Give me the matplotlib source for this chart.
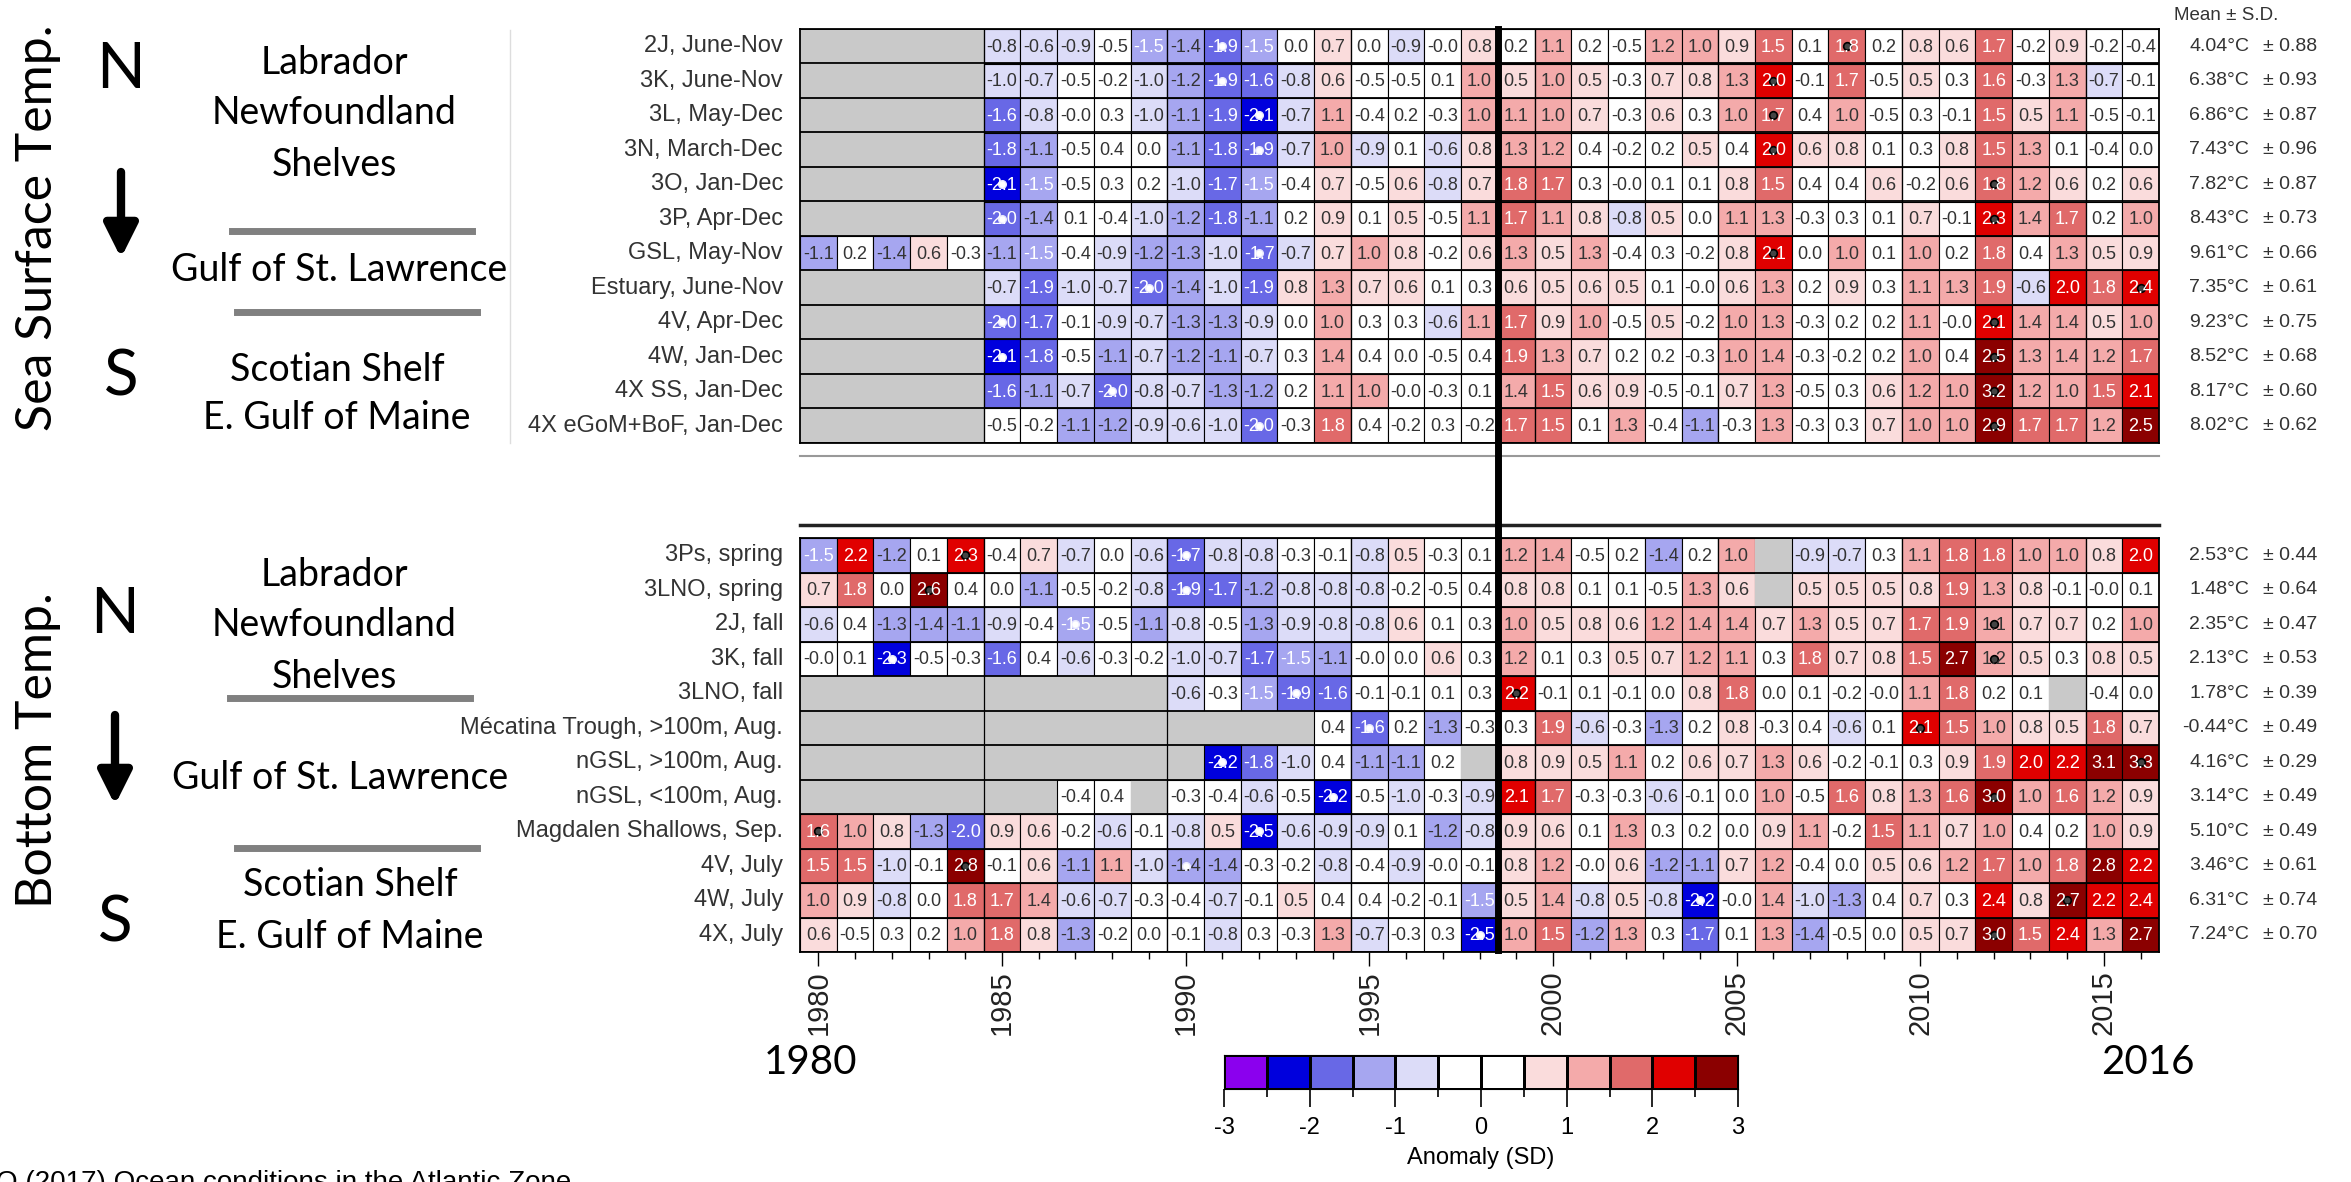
import numpy as np
import matplotlib.pyplot as plt
from matplotlib.colors import ListedColormap, BoundaryNorm
from matplotlib.lines import Line2D
from matplotlib.patches import Rectangle, FancyArrowPatch
import matplotlib.transforms as mtransforms

G = np.nan  # no data (grey cell)
years = np.arange(1980, 2017)

# Sea surface temperature anomalies (SD), 1980-2016
sst_labels = ['2J, June-Nov', '3K, June-Nov', '3L, May-Dec', '3N, March-Dec', '3O, Jan-Dec',
              '3P, Apr-Dec', 'GSL, May-Nov', 'Estuary, June-Nov', '4V, Apr-Dec', '4W, Jan-Dec',
              '4X SS, Jan-Dec', '4X eGoM+BoF, Jan-Dec']
sst_2J = [G, G, G, G, G, -0.8, -0.6, -0.9, -0.5, -1.5, -1.4, -1.9, -1.5, 0.0, 0.7, 0.0, -0.9, -0.0, 0.8,
          0.2, 1.1, 0.2, -0.5, 1.2, 1.0, 0.9, 1.5, 0.1, 1.8, 0.2, 0.8, 0.6, 1.7, -0.2, 0.9, -0.2, -0.4]
sst_3K = [G, G, G, G, G, -1.0, -0.7, -0.5, -0.2, -1.0, -1.2, -1.9, -1.6, -0.8, 0.6, -0.5, -0.5, 0.1, 1.0,
          0.5, 1.0, 0.5, -0.3, 0.7, 0.8, 1.3, 2.0, -0.1, 1.7, -0.5, 0.5, 0.3, 1.6, -0.3, 1.3, -0.7, -0.1]
sst_3L = [G, G, G, G, G, -1.6, -0.8, -0.0, 0.3, -1.0, -1.1, -1.9, -2.1, -0.7, 1.1, -0.4, 0.2, -0.3, 1.0,
          1.1, 1.0, 0.7, -0.3, 0.6, 0.3, 1.0, 1.7, 0.4, 1.0, -0.5, 0.3, -0.1, 1.5, 0.5, 1.1, -0.5, -0.1]
sst_3N = [G, G, G, G, G, -1.8, -1.1, -0.5, 0.4, 0.0, -1.1, -1.8, -1.9, -0.7, 1.0, -0.9, 0.1, -0.6, 0.8,
          1.3, 1.2, 0.4, -0.2, 0.2, 0.5, 0.4, 2.0, 0.6, 0.8, 0.1, 0.3, 0.8, 1.5, 1.3, 0.1, -0.4, 0.0]
sst_3O = [G, G, G, G, G, -2.1, -1.5, -0.5, 0.3, 0.2, -1.0, -1.7, -1.5, -0.4, 0.7, -0.5, 0.6, -0.8, 0.7,
          1.8, 1.7, 0.3, -0.0, 0.1, 0.1, 0.8, 1.5, 0.4, 0.4, 0.6, -0.2, 0.6, 1.8, 1.2, 0.6, 0.2, 0.6]
sst_3P = [G, G, G, G, G, -2.0, -1.4, 0.1, -0.4, -1.0, -1.2, -1.8, -1.1, 0.2, 0.9, 0.1, 0.5, -0.5, 1.1,
          1.7, 1.1, 0.8, -0.8, 0.5, 0.0, 1.1, 1.3, -0.3, 0.3, 0.1, 0.7, -0.1, 2.3, 1.4, 1.7, 0.2, 1.0]
sst_GSL = [-1.1, 0.2, -1.4, 0.6, -0.3, -1.1, -1.5, -0.4, -0.9, -1.2, -1.3, -1.0, -1.7, -0.7, 0.7, 1.0, 0.8, -0.2, 0.6,
           1.3, 0.5, 1.3, -0.4, 0.3, -0.2, 0.8, 2.1, 0.0, 1.0, 0.1, 1.0, 0.2, 1.8, 0.4, 1.3, 0.5, 0.9]
sst_Est = [G, G, G, G, G, -0.7, -1.9, -1.0, -0.7, -2.0, -1.4, -1.0, -1.9, 0.8, 1.3, 0.7, 0.6, 0.1, 0.3,
           0.6, 0.5, 0.6, 0.5, 0.1, -0.0, 0.6, 1.3, 0.2, 0.9, 0.3, 1.1, 1.3, 1.9, -0.6, 2.0, 1.8, 2.4]
sst_4V = [G, G, G, G, G, -2.0, -1.7, -0.1, -0.9, -0.7, -1.3, -1.3, -0.9, 0.0, 1.0, 0.3, 0.3, -0.6, 1.1,
          1.7, 0.9, 1.0, -0.5, 0.5, -0.2, 1.0, 1.3, -0.3, 0.2, 0.2, 1.1, -0.0, 2.1, 1.4, 1.4, 0.5, 1.0]
sst_4W = [G, G, G, G, G, -2.1, -1.8, -0.5, -1.1, -0.7, -1.2, -1.1, -0.7, 0.3, 1.4, 0.4, 0.0, -0.5, 0.4,
          1.9, 1.3, 0.7, 0.2, 0.2, -0.3, 1.0, 1.4, -0.3, -0.2, 0.2, 1.0, 0.4, 2.5, 1.3, 1.4, 1.2, 1.7]
sst_4XSS = [G, G, G, G, G, -1.6, -1.1, -0.7, -2.0, -0.8, -0.7, -1.3, -1.2, 0.2, 1.1, 1.0, -0.0, -0.3, 0.1,
            1.4, 1.5, 0.6, 0.9, -0.5, -0.1, 0.7, 1.3, -0.5, 0.3, 0.6, 1.2, 1.0, 3.2, 1.2, 1.0, 1.5, 2.1]
sst_4XGoM = [G, G, G, G, G, -0.5, -0.2, -1.1, -1.2, -0.9, -0.6, -1.0, -2.0, -0.3, 1.8, 0.4, -0.2, 0.3, -0.2,
             1.7, 1.5, 0.1, 1.3, -0.4, -1.1, -0.3, 1.3, -0.3, 0.3, 0.7, 1.0, 1.0, 2.9, 1.7, 1.7, 1.2, 2.5]
sst_mean = [4.04, 6.38, 6.86, 7.43, 7.82, 8.43, 9.61, 7.35, 9.23, 8.52, 8.17, 8.02]
sst_sd = [0.88, 0.93, 0.87, 0.96, 0.87, 0.73, 0.66, 0.61, 0.75, 0.68, 0.60, 0.62]
sst_max_yr = [2008, 2006, 2006, 2006, 2012, 2012, 2006, 2016, 2012, 2012, 2012, 2012]
sst_min_yr = [1991, 1991, 1992, 1992, 1985, 1985, 1992, 1989, 1985, 1985, 1988, 1992]

# Bottom temperature anomalies (SD), 1980-2016
bt_labels = ['3Ps, spring', '3LNO, spring', '2J, fall', '3K, fall', '3LNO, fall',
             'Mécatina Trough, >100m, Aug.', 'nGSL, >100m, Aug.', 'nGSL, <100m, Aug.',
             'Magdalen Shallows, Sep.', '4V, July', '4W, July', '4X, July']
bt_3Ps = [-1.5, 2.2, -1.2, 0.1, 2.3, -0.4, 0.7, -0.7, 0.0, -0.6, -1.7, -0.8, -0.8, -0.3, -0.1, -0.8, 0.5, -0.3, 0.1,
          1.2, 1.4, -0.5, 0.2, -1.4, 0.2, 1.0, G, -0.9, -0.7, 0.3, 1.1, 1.8, 1.8, 1.0, 1.0, 0.8, 2.0]
bt_3LNOs = [0.7, 1.8, 0.0, 2.6, 0.4, 0.0, -1.1, -0.5, -0.2, -0.8, -1.9, -1.7, -1.2, -0.8, -0.8, -0.8, -0.2, -0.5, 0.4,
            0.8, 0.8, 0.1, 0.1, -0.5, 1.3, 0.6, G, 0.5, 0.5, 0.5, 0.8, 1.9, 1.3, 0.8, -0.1, -0.0, 0.1]
bt_2Jf = [-0.6, 0.4, -1.3, -1.4, -1.1, -0.9, -0.4, -1.5, -0.5, -1.1, -0.8, -0.5, -1.3, -0.9, -0.8, -0.8, 0.6, 0.1, 0.3,
          1.0, 0.5, 0.8, 0.6, 1.2, 1.4, 1.4, 0.7, 1.3, 0.5, 0.7, 1.7, 1.9, 1.1, 0.7, 0.7, 0.2, 1.0]
bt_3Kf = [-0.0, 0.1, -2.3, -0.5, -0.3, -1.6, 0.4, -0.6, -0.3, -0.2, -1.0, -0.7, -1.7, -1.5, -1.1, -0.0, 0.0, 0.6, 0.3,
          1.2, 0.1, 0.3, 0.5, 0.7, 1.2, 1.1, 0.3, 1.8, 0.7, 0.8, 1.5, 2.7, 1.2, 0.5, 0.3, 0.8, 0.5]
bt_3LNOf = [G, G, G, G, G, G, G, G, G, G, -0.6, -0.3, -1.5, -1.9, -1.6, -0.1, -0.1, 0.1, 0.3,
            2.2, -0.1, 0.1, -0.1, 0.0, 0.8, 1.8, 0.0, 0.1, -0.2, -0.0, 1.1, 1.8, 0.2, 0.1, G, -0.4, 0.0]
bt_Meca = [G, G, G, G, G, G, G, G, G, G, G, G, G, G, 0.4, -1.6, 0.2, -1.3, -0.3,
           0.3, 1.9, -0.6, -0.3, -1.3, 0.2, 0.8, -0.3, 0.4, -0.6, 0.1, 2.1, 1.5, 1.0, 0.8, 0.5, 1.8, 0.7]
bt_nGSLdeep = [G, G, G, G, G, G, G, G, G, G, G, -2.2, -1.8, -1.0, 0.4, -1.1, -1.1, 0.2, G,
               0.8, 0.9, 0.5, 1.1, 0.2, 0.6, 0.7, 1.3, 0.6, -0.2, -0.1, 0.3, 0.9, 1.9, 2.0, 2.2, 3.1, 3.3]
bt_nGSLshal = [G, G, G, G, G, G, G, -0.4, 0.4, G, -0.3, -0.4, -0.6, -0.5, -2.2, -0.5, -1.0, -0.3, -0.9,
               2.1, 1.7, -0.3, -0.3, -0.6, -0.1, 0.0, 1.0, -0.5, 1.6, 0.8, 1.3, 1.6, 3.0, 1.0, 1.6, 1.2, 0.9]
bt_Magd = [1.6, 1.0, 0.8, -1.3, -2.0, 0.9, 0.6, -0.2, -0.6, -0.1, -0.8, 0.5, -2.5, -0.6, -0.9, -0.9, 0.1, -1.2, -0.8,
           0.9, 0.6, 0.1, 1.3, 0.3, 0.2, 0.0, 0.9, 1.1, -0.2, 1.5, 1.1, 0.7, 1.0, 0.4, 0.2, 1.0, 0.9]
bt_4V = [1.5, 1.5, -1.0, -0.1, 2.8, -0.1, 0.6, -1.1, 1.1, -1.0, -1.4, -1.4, -0.3, -0.2, -0.8, -0.4, -0.9, -0.0, -0.1,
         0.8, 1.2, -0.0, 0.6, -1.2, -1.1, 0.7, 1.2, -0.4, 0.0, 0.5, 0.6, 1.2, 1.7, 1.0, 1.8, 2.8, 2.2]
bt_4W = [1.0, 0.9, -0.8, 0.0, 1.8, 1.7, 1.4, -0.6, -0.7, -0.3, -0.4, -0.7, -0.1, 0.5, 0.4, 0.4, -0.2, -0.1, -1.5,
         0.5, 1.4, -0.8, 0.5, -0.8, -2.2, -0.0, 1.4, -1.0, -1.3, 0.4, 0.7, 0.3, 2.4, 0.8, 2.7, 2.2, 2.4]
bt_4X = [0.6, -0.5, 0.3, 0.2, 1.0, 1.8, 0.8, -1.3, -0.2, 0.0, -0.1, -0.8, 0.3, -0.3, 1.3, -0.7, -0.3, 0.3, -2.5,
         1.0, 1.5, -1.2, 1.3, 0.3, -1.7, 0.1, 1.3, -1.4, -0.5, 0.0, 0.5, 0.7, 3.0, 1.5, 2.4, 1.3, 2.7]
bt_mean = [2.53, 1.48, 2.35, 2.13, 1.78, -0.44, 4.16, 3.14, 5.10, 3.46, 6.31, 7.24]
bt_sd = [0.44, 0.64, 0.47, 0.53, 0.39, 0.49, 0.29, 0.49, 0.49, 0.61, 0.74, 0.70]
bt_max_yr = [1984, 1983, 2012, 2012, 1999, 2010, 2016, 2012, 1980, 1984, 2014, 2012]
bt_min_yr = [1990, 1990, 1987, 1982, 1993, 1995, 1991, 1994, 1992, 1990, 2004, 1998]

sst = [sst_2J, sst_3K, sst_3L, sst_3N, sst_3O, sst_3P, sst_GSL, sst_Est, sst_4V, sst_4W, sst_4XSS, sst_4XGoM]
bt = [bt_3Ps, bt_3LNOs, bt_2Jf, bt_3Kf, bt_3LNOf, bt_Meca, bt_nGSLdeep, bt_nGSLshal, bt_Magd, bt_4V, bt_4W, bt_4X]

# colour scale
levels = np.arange(-3, 3.01, 0.5)
anom_colors = ['#8B00EE', '#0000DD', '#6868E6', '#A6A6F0', '#DCDCF8', '#FFFFFF',
               '#FFFFFF', '#FADCDC', '#F4AAAA', '#E06A6A', '#E00000', '#8B0000']
cmap = ListedColormap(anom_colors)
norm = BoundaryNorm(levels, cmap.N)

W, H = 2351, 1182
def fx(px):
    return px / W
def fy(py):
    return 1 - py / H

plt.rcParams['font.family'] = ['Liberation Sans', 'DejaVu Sans']
plt.rcParams['axes.unicode_minus'] = False
fig = plt.figure(figsize=(W / 100, H / 100), dpi=100)

GRID_L, GRID_R = 800, 2159


def panel(top_px, bot_px, data, labels, means, sds, max_yr, min_yr, show_years):
    ax = fig.add_axes([fx(GRID_L), fy(bot_px), fx(GRID_R) - fx(GRID_L), fy(top_px) - fy(bot_px)])
    n = len(labels)
    for i, row in enumerate(data):
        for j, v in enumerate(row):
            yr = years[j]
            if np.isnan(v):
                ax.add_patch(Rectangle((yr - 0.5, i - 0.5), 1, 1, facecolor='#c9c9c9', edgecolor='none'))
                continue
            ax.add_patch(Rectangle((yr - 0.5, i - 0.5), 1, 1, facecolor=cmap(norm(v)),
                                   edgecolor='black', linewidth=0.8))
            tc = 'white' if abs(v) >= 1.5 else '#333333'
            ax.text(yr, i + 0.03, f'{v:.1f}', ha='center', va='center', fontsize=13, color=tc)
        ax.plot(max_yr[i], i, 'o', ms=5.5, mfc='#444444', mec='black', mew=1.2)
        ax.plot(min_yr[i], i, 'o', ms=5.5, mfc='white', mec='#e8e8ff', mew=1.0)
    ax.hlines(np.arange(-0.5, n), years[0] - 0.5, years[-1] + 0.5, color='black', lw=1.3)
    ax.vlines(np.arange(1984.5, 2016, 5), -0.5, n - 0.5, color='black', lw=0.9)
    ax.set_xlim(years[0] - 0.5, years[-1] + 0.5)
    ax.set_ylim(n - 0.5, -0.5)
    ax.set_yticks([])
    for s in ax.spines.values():
        s.set_linewidth(1.3)

    tr = mtransforms.blended_transform_factory(ax.transAxes, ax.transData)
    w = GRID_R - GRID_L
    for i, lab in enumerate(labels):
        ax.text(-17 / w, i, lab, transform=tr, ha='right', va='center', fontsize=17, color='#333333')
        ax.text((2249 - GRID_L) / w, i, f'{means[i]:.2f}°C', transform=tr, ha='right', va='center',
                fontsize=14, color='#333333')
        ax.text((2263 - GRID_L) / w, i, f'± {sds[i]:.2f}', transform=tr, ha='left', va='center',
                fontsize=14, color='#333333')

    if show_years:
        ax.set_xticks(np.arange(1980, 2016, 5))
        ax.set_xticks(years, minor=True)
        ax.tick_params(axis='x', which='major', length=10, width=1, pad=3, labelsize=21,
                       labelrotation=90, labelcolor='#222222')
        ax.tick_params(axis='x', which='minor', length=5, width=1)
    else:
        ax.set_xticks([])
    return ax


ax_top = panel(29, 443, sst, sst_labels, sst_mean, sst_sd, sst_max_yr, sst_min_yr, False)
ax_bot = panel(538, 952, bt, bt_labels, bt_mean, bt_sd, bt_max_yr, bt_min_yr, True)

fig.text(fx(2278), fy(16), 'Mean ± S.D.', ha='right', va='center', fontsize=13.5, color='#333333')

# separators
fig.add_artist(Line2D([fx(GRID_L), fx(GRID_R)], [fy(456), fy(456)], color='#999999', lw=1.5))
fig.add_artist(Line2D([fx(GRID_L), fx(GRID_R)], [fy(525), fy(525)], color='#222222', lw=2.5))
fig.add_artist(Line2D([fx(510), fx(510)], [fy(30), fy(443)], color='#dddddd', lw=1))
# 1998/1999 divider
fig.add_artist(Line2D([fx(1498), fx(1498)], [fy(29), fy(950)], color='black', lw=5, zorder=10))

# left-hand region annotations
big = dict(family=['Lato', 'DejaVu Sans'], ha='center', va='center', color='black')


def side_labels(title, ty, n_y, arrow_y, s_y, xns, lab_ys, lines, gulf_xy, scot_x, scot_ys):
    fig.text(fx(38), fy(ty), title, rotation=90, fontsize=36, **big)
    fig.text(fx(xns), fy(n_y), 'N', fontsize=46, **big)
    fig.text(fx(xns), fy(s_y), 'S', fontsize=46, **big)
    fig.add_artist(FancyArrowPatch((fx(xns), fy(arrow_y[0])), (fx(xns), fy(arrow_y[1])),
                                   transform=fig.transFigure, arrowstyle='-|>,head_length=20,head_width=10',
                                   mutation_scale=1, lw=6, color='black', shrinkA=0, shrinkB=0))
    for txt, yy in zip(['Labrador', 'Newfoundland', 'Shelves'], lab_ys):
        fig.text(fx(334), fy(yy), txt, fontsize=27, **big)
    for (x0, x1, yy) in lines:
        fig.add_artist(Line2D([fx(x0), fx(x1)], [fy(yy), fy(yy)], color='#808080', lw=5))
    fig.text(fx(gulf_xy[0]), fy(gulf_xy[1]), 'Gulf of St. Lawrence', fontsize=27, **big)
    fig.text(fx(scot_x), fy(scot_ys[0]), 'Scotian Shelf', fontsize=27, **big)
    fig.text(fx(scot_x), fy(scot_ys[1]), 'E. Gulf of Maine', fontsize=27, **big)


side_labels('Sea Surface Temp.', 228, 70, (172, 258), 378, 121, (63, 113, 165),
            [(232, 472, 231), (237, 477, 312)], (339, 270), 337, (370, 418))
side_labels('Bottom Temp.', 750, 615, (715, 805), 923, 115, (575, 625, 677),
            [(230, 470, 698), (237, 477, 848)], (340, 778), 350, (885, 937))

fig.text(fx(810), fy(1062), '1980', fontsize=29, **big)
fig.text(fx(2148), fy(1062), '2016', fontsize=29, **big)

# colour bar
cax = fig.add_axes([fx(1224), fy(1089), fx(1738) - fx(1224), fy(1055) - fy(1089)])
mids = (levels[:-1] + levels[1:]) / 2
cax.pcolormesh(levels, [0, 1], mids[np.newaxis, :], cmap=cmap, norm=norm,
               edgecolors='black', linewidth=1.0)
cax.set_xlim(-3, 3)
cax.set_ylim(0, 1)
cax.set_yticks([])
cax.set_xticks(np.arange(-3, 4, 1))
cax.set_xticks(levels, minor=True)
cax.tick_params(axis='x', which='major', length=13, width=1.2, pad=7, labelsize=17)
cax.tick_params(axis='x', which='minor', length=6, width=1.2)
cax.set_xlabel('Anomaly (SD)', fontsize=17, labelpad=6)

# source line, clipped at the bottom edge
fig.text(fx(-4), fy(1170), 'O (2017) Ocean conditions in the Atlantic Zone', ha='left', va='top',
         fontsize=20, color='black')

fig.savefig('out.png', dpi=100, facecolor='white')
